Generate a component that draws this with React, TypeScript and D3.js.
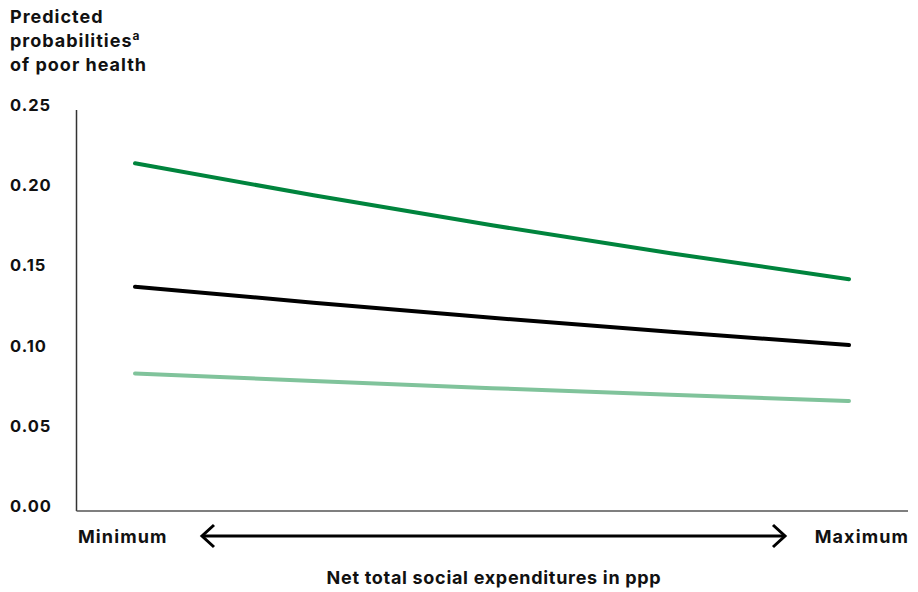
import React from "react";
import * as d3 from "d3";

const positions = [0, 0.25, 0.5, 0.75, 1];
const highSeries = [0.2168, 0.1968, 0.1781, 0.1607, 0.1445];
const averageSeries = [0.1398, 0.1299, 0.1205, 0.1117, 0.1035];
const lowSeries = [0.0858, 0.081, 0.0766, 0.0724, 0.0686];
const yTicks = [0, 0.05, 0.1, 0.15, 0.2, 0.25];
const titleLines = ["Predicted", "probabilities", "of poor health"];
const xAxisTitle = "Net total social expenditures in ppp";
const xEndLabels = ["Minimum", "Maximum"];

const seriesList = [
  { values: highSeries, color: "#00843d" },
  { values: averageSeries, color: "#000000" },
  { values: lowSeries, color: "#80c39b" },
];

const W = 918;
const H = 592;
const FONT = "Inter, 'Liberation Sans', Arial, sans-serif";

export default function App() {
  const axisX = 76.5;
  const axisTop = 110;
  const axisBottom = 511;
  const axisRight = 908;
  const x = d3.scaleLinear().domain([0, 1]).range([135, 849]);
  const y = d3.scaleLinear().domain([0, 0.25]).range([axisBottom, axisTop]);
  const line = d3
    .line<number>()
    .x((_, i) => x(positions[i]))
    .y((d) => y(d))
    .curve(d3.curveMonotoneX);

  const arrowY = 536;
  const leftTip = 202;
  const rightTip = 785;

  return (
    <svg
      width={W}
      height={H}
      style={{ position: "absolute", left: 0, top: 0, background: "#fff" }}
      fontFamily={FONT}
    >
      {titleLines.map((t, i) => (
        <text
          key={t}
          x={10}
          y={23 + i * 24}
          fontSize={18}
          fontWeight={700}
          letterSpacing={1}
          fill="#111"
        >
          {t}
          {i === 1 ? (
            <tspan fontSize={12} dy={-7}>
              a
            </tspan>
          ) : null}
        </text>
      ))}

      {yTicks.map((t) => (
        <text
          key={t}
          x={10}
          y={y(t) + 1}
          fontSize={16.5}
          fontWeight={700}
          letterSpacing={1}
          fill="#111"
        >
          {d3.format(".2f")(t)}
        </text>
      ))}

      <line x1={axisX} x2={axisX} y1={axisTop} y2={axisBottom} stroke="#333" strokeWidth={1.5} />
      <line x1={axisX} x2={axisRight} y1={axisBottom} y2={axisBottom} stroke="#555" strokeWidth={1.5} />

      {seriesList.map((s, i) => (
        <path
          key={i}
          d={line(s.values) || ""}
          fill="none"
          stroke={s.color}
          strokeWidth={4}
          strokeLinecap="round"
        />
      ))}

      <text x={78} y={543} fontSize={18} fontWeight={700} letterSpacing={1.1} fill="#111">
        {xEndLabels[0]}
      </text>
      <text
        x={909}
        y={543}
        fontSize={18}
        fontWeight={700}
        letterSpacing={1.1}
        fill="#111"
        textAnchor="end"
      >
        {xEndLabels[1]}
      </text>

      <line x1={leftTip + 1} x2={rightTip - 1} y1={arrowY} y2={arrowY} stroke="#000" strokeWidth={3} />
      <polyline
        points={`${leftTip + 12},${arrowY - 11} ${leftTip},${arrowY} ${leftTip + 12},${arrowY + 11}`}
        fill="none"
        stroke="#000"
        strokeWidth={3}
      />
      <polyline
        points={`${rightTip - 12},${arrowY - 11} ${rightTip},${arrowY} ${rightTip - 12},${arrowY + 11}`}
        fill="none"
        stroke="#000"
        strokeWidth={3}
      />

      <text
        x={494}
        y={584}
        fontSize={18}
        fontWeight={700}
        letterSpacing={0.7}
        fill="#111"
        textAnchor="middle"
      >
        {xAxisTitle}
      </text>
    </svg>
  );
}
